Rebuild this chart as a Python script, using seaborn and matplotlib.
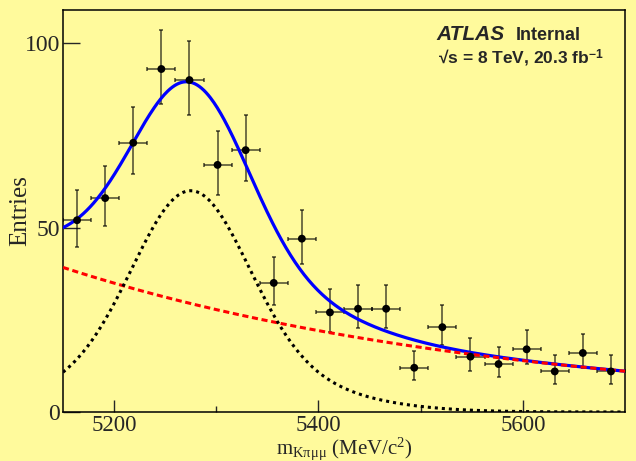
import numpy as np
import pandas as pd
import matplotlib
matplotlib.use("Agg")
import matplotlib.pyplot as plt
import seaborn as sns

# ---------------------------------------------------
# data: 20 bins of 27.5 MeV between 5150 and 5700
# ---------------------------------------------------
mass_lo, mass_hi = 5150, 5700
n_bins = 20
counts = [52, 58, 73, 93, 90, 67, 71, 35, 47, 27,
          28, 28, 12, 23, 15, 13, 17, 11, 16, 11]
# asymmetric (Poisson) errors as drawn
err_lo = [7.2, 7.6, 8.5, 9.6, 9.5, 8.2, 8.4, 5.9, 6.8, 5.2,
          5.3, 5.3, 3.4, 4.8, 3.8, 3.5, 4.1, 3.3, 4.0, 3.3]
err_hi = [8.3, 8.7, 9.6, 10.7, 10.5, 9.2, 9.5, 7.0, 7.9, 6.3,
          6.4, 6.4, 4.6, 5.9, 5.0, 4.7, 5.2, 4.4, 5.1, 4.4]

# fit result
sig_mean = 5275.0
sig_peak = 60.0
sig_core_width = 55.0
sig_tail_width = 105.0
sig_tail_frac = 0.25
bkg_at_lo = 39.2
bkg_slope = 0.0023

x_ticks = [5200, 5400, 5600]
x_minor = [5300, 5500]
y_ticks = [0, 50, 100]

# ---------------------------------------------------
# build frames
# ---------------------------------------------------
edges = np.linspace(mass_lo, mass_hi, n_bins + 1)
centers = 0.5 * (edges[:-1] + edges[1:])
half_w = 0.5 * (edges[1] - edges[0])
df = pd.DataFrame({"mass": centers, "entries": counts})

m = np.linspace(mass_lo, mass_hi, 500)
d = m - sig_mean
signal = sig_peak * ((1 - sig_tail_frac) * np.exp(-d**2 / (2 * sig_core_width**2))
                     + sig_tail_frac * np.exp(-d**2 / (2 * sig_tail_width**2)))
bkg = bkg_at_lo * np.exp(-bkg_slope * (m - mass_lo))
curves = pd.DataFrame({"mass": m, "signal": signal, "bkg": bkg, "total": signal + bkg})

# ---------------------------------------------------
# style
# ---------------------------------------------------
yellow = "#fffa9c"
sns.set_style("ticks")
plt.rcParams["font.family"] = ["Liberation Serif", "DejaVu Serif"]
plt.rcParams["mathtext.fontset"] = "custom"
plt.rcParams["mathtext.rm"] = "Liberation Serif"
plt.rcParams["mathtext.it"] = "Liberation Serif:italic"
plt.rcParams["mathtext.bf"] = "Liberation Sans:bold"

fig = plt.figure(figsize=(6.36, 4.61), dpi=100, facecolor=yellow)
ax = fig.add_axes([63 / 636, 1 - 412 / 461, 562 / 636, 402 / 461])
ax.set_facecolor(yellow)

# data points
ax.errorbar(df["mass"], df["entries"], yerr=[err_lo, err_hi], xerr=half_w,
            fmt="none", ecolor="black", alpha=0.65, elinewidth=1.2,
            capsize=1.6, capthick=1.2, zorder=3)

# curves
sns.lineplot(data=curves, x="mass", y="bkg", ax=ax, color="red", lw=2.2,
             linestyle=(0, (2.0, 1.2)), zorder=4)
sns.lineplot(data=curves, x="mass", y="signal", ax=ax, color="black", lw=2.2,
             linestyle=(0, (1.0, 1.3)), zorder=4)
sns.lineplot(data=curves, x="mass", y="total", ax=ax, color="blue", lw=2.3,
             zorder=3.5)

sns.scatterplot(data=df, x="mass", y="entries", ax=ax, color="black", s=32,
                edgecolor="none", zorder=5)

# axes
ax.set_xlim(mass_lo, mass_hi)
ax.set_ylim(0, 109)
ax.set_xticks(x_ticks)
ax.set_xticks(x_minor, minor=True)
ax.set_yticks(y_ticks)
ax.tick_params(axis="x", which="major", direction="in", length=8.6, width=1,
               labelsize=16.5, pad=2, top=False)
ax.tick_params(axis="x", which="minor", direction="in", length=4.3, width=1, top=False)
ax.tick_params(axis="y", which="major", direction="in", length=12, width=1,
               labelsize=17, pad=2, right=False)
for s in ax.spines.values():
    s.set_linewidth(1.1)
    s.set_color("black")

ax.set_xlabel(r"m$_{\mathrm{Kπμμ}}$ (MeV/c$^{\mathrm{2}}$)", fontsize=15)
ax.xaxis.set_label_coords(0.5, -0.058)
ax.xaxis.label.set_va("top")
ax.set_ylabel("Entries", fontsize=18)
ax.yaxis.set_label_coords(-0.056, 0.5)

# ATLAS label
sans = ["Liberation Sans", "DejaVu Sans"]
ax.text(0.664, 0.925, "ATLAS", transform=ax.transAxes, family=sans,
        fontsize=15, fontweight="bold", fontstyle="italic", va="baseline")
ax.text(0.806, 0.925, "Internal", transform=ax.transAxes, family=sans,
        fontsize=13, fontweight="bold", va="baseline")
ax.text(0.667, 0.866, r"√s = 8 TeV, 20.3 fb$^{\mathbf{-1}}$", transform=ax.transAxes,
        family=sans, fontsize=12.5, fontweight="bold", va="baseline")

fig.savefig("out.png", dpi=100, facecolor=yellow)
